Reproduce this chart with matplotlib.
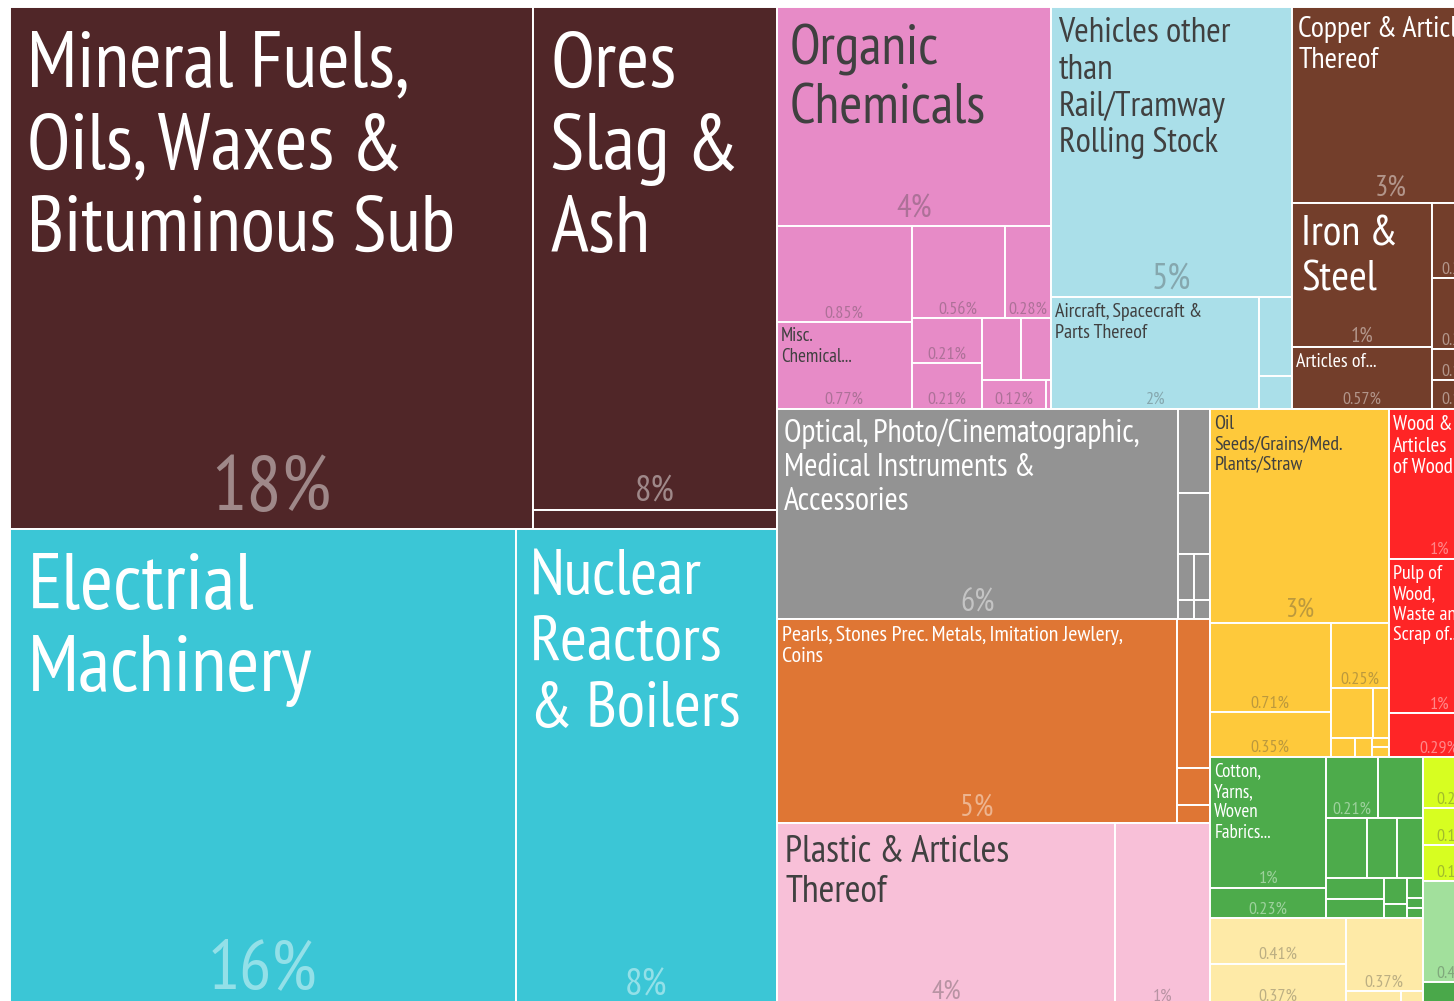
import matplotlib
matplotlib.use("Agg")
import matplotlib.pyplot as plt
import matplotlib.colors as mcolors
from matplotlib import font_manager
from matplotlib.patches import Rectangle

# shares of total exports (%)
minerals_share = [17.93, 8.07, 0.31]
minerals_names = ["Mineral Fuels,\nOils, Waxes &\nBituminous Sub", "Ores\nSlag &\nAsh", ""]

machinery_share = [15.82, 8.17]
machinery_names = ["Electrial\nMachinery", "Nuclear\nReactors\n& Boilers"]

chemicals_share = [3.94, 0.85, 0.77, 0.56, 0.28, 0.21, 0.21, 0.16, 0.12, 0.12, 0.01]
chemicals_names = ["Organic\nChemicals", "", "Misc.\nChemical...", "", "", "", "", "", "", "", ""]

transport_share = [4.60, 1.52, 0.17, 0.07]
transport_names = ["Vehicles other\nthan\nRail/Tramway\nRolling Stock",
                   "Aircraft, Spacecraft &\nParts Thereof", "", ""]

metals_share = [2.55, 1.32, 0.57, 0.29, 0.27, 0.12, 0.11]
metals_names = ["Copper & Articles\nThereof", "Iron &\nSteel", "Articles of...", "", "", "", ""]

instruments_share = [5.54, 0.18, 0.13, 0.05, 0.05, 0.02, 0.02]
instruments_names = ["Optical, Photo/Cinematographic,\nMedical Instruments &\nAccessories",
                     "", "", "", "", "", ""]

precious_share = [5.38, 0.32, 0.08, 0.04]
precious_names = ["Pearls, Stones Prec. Metals, Imitation Jewlery,\nCoins", "", "", ""]

plastics_share = [4.04, 1.13]
plastics_names = ["Plastic & Articles\nThereof", ""]

vegetable_share = [2.51, 0.71, 0.35, 0.25, 0.14, 0.05, 0.03, 0.02, 0.01, 0.01]
vegetable_names = ["Oil\nSeeds/Grains/Med.\nPlants/Straw", "", "", "", "", "", "", "", "", ""]

wood_share = [1.00, 1.03, 0.29]
wood_names = ["Wood &\nArticles\nof Wood", "Pulp of\nWood,\nWaste and\nScrap of...", ""]

textiles_share = [1.00, 0.23, 0.21, 0.18, 0.16, 0.12, 0.10, 0.08, 0.07, 0.04, 0.02, 0.02, 0.01, 0.01]
textiles_names = ["Cotton,\nYarns,\nWoven\nFabrics..."] + [""] * 13

foodstuffs_share = [0.41, 0.37, 0.37, 0.05, 0.02]
foodstuffs_names = [""] * 5

lime_share = [0.23, 0.16, 0.16]
lime_names = ["", "", ""]
stone_share = [0.45]
stone_names = [""]
misc_share = [0.10]
misc_names = [""]

# nesting of the slices: "h" = side by side, "v" = stacked
groups = {
    "minerals": (minerals_share, minerals_names, ("h", [0, ("v", [1, 2])])),
    "machinery": (machinery_share, machinery_names, ("h", [0, 1])),
    "chemicals": (chemicals_share, chemicals_names,
                  ("v", [0, ("h", [("v", [1, 2]),
                                   ("v", [("h", [3, 4]),
                                          ("h", [("v", [5, 6]),
                                                 ("v", [("h", [7, 8]), ("h", [9, 10])])])])])])),
    "transport": (transport_share, transport_names, ("v", [0, ("h", [1, ("v", [2, 3])])])),
    "metals": (metals_share, metals_names, ("v", [0, ("h", [("v", [1, 2]), ("v", [3, 4, 5, 6])])])),
    "instruments": (instruments_share, instruments_names,
                    ("h", [0, ("v", [1, 2, ("h", [3, 4]), ("h", [5, 6])])])),
    "precious": (precious_share, precious_names, ("h", [0, ("v", [1, 2, 3])])),
    "plastics": (plastics_share, plastics_names, ("h", [0, 1])),
    "vegetable": (vegetable_share, vegetable_names,
                  ("v", [0, ("h", [("v", [1, 2]),
                                   ("v", [3, ("h", [4, 5]), ("h", [6, 7, ("v", [8, 9])])])])])),
    "wood": (wood_share, wood_names, ("v", [0, 1, 2])),
    "textiles": (textiles_share, textiles_names,
                 ("h", [("v", [0, 1]),
                        ("v", [("h", [2, 3]), ("h", [4, 5, 6]),
                               ("h", [("v", [7, 8]), ("v", [9, 10]), ("v", [11, 12, 13])])])])),
    "foodstuffs": (foodstuffs_share, foodstuffs_names, ("h", [("v", [0, 1]), ("v", [2, ("h", [3, 4])])])),
    "lime": (lime_share, lime_names, ("v", [0, 1, 2])),
    "stone": (stone_share, stone_names, 0),
    "misc": (misc_share, misc_names, 0),
}

layout = ("h", [("v", ["minerals", "machinery"]),
                ("v", [("h", ["chemicals", "transport", "metals"]),
                       ("h", [("v", ["instruments", "precious", "plastics"]),
                              ("v", [("h", ["vegetable", "wood"]),
                                     ("h", [("v", ["textiles", "foodstuffs"]),
                                            ("v", ["lime", "stone", "misc"])])])])])])

fill = {"minerals": "#502628", "machinery": "#3bc6d6", "chemicals": "#e78bc7",
        "transport": "#aadfe9", "metals": "#733e2b", "instruments": "#939393",
        "precious": "#df7634", "plastics": "#f8c0d8", "vegetable": "#fec93b",
        "wood": "#ff2526", "textiles": "#4dab4b", "foodstuffs": "#feeaa7",
        "lime": "#d7fe21", "stone": "#a2e09c", "misc": "#4aa84a"}
white_text = {"minerals", "machinery", "metals", "instruments", "precious", "wood", "textiles"}
DARK = "#404040"

# name label sizes in pixels
name_px = {("minerals", 0): 79, ("minerals", 1): 80, ("machinery", 0): 80, ("machinery", 1): 65,
           ("chemicals", 0): 56, ("chemicals", 2): 19, ("transport", 0): 35, ("transport", 1): 20,
           ("metals", 0): 30, ("metals", 1): 43, ("metals", 2): 20, ("instruments", 0): 32,
           ("precious", 0): 22, ("plastics", 0): 38, ("vegetable", 0): 20, ("wood", 0): 21,
           ("wood", 1): 20, ("textiles", 0): 19}

have = {f.name for f in font_manager.fontManager.ttflist}
FONT = next((f for f in ["PT Sans Narrow", "Liberation Sans Narrow", "Roboto Condensed",
                         "Open Sans Condensed", "DejaVu Sans"] if f in have), "DejaVu Sans")


def node_sum(node, g=None):
    if isinstance(node, str):
        return node_sum(groups[node][2], node)
    if isinstance(node, int):
        return groups[g][0][node]
    return sum(node_sum(c, g) for c in node[1])


def place(node, x, y, w, h, g, out):
    if isinstance(node, str):
        place(groups[node][2], x, y, w, h, node, out)
        return
    if isinstance(node, int):
        out.append((g, node, x, y, w, h))
        return
    d, kids = node
    tot = node_sum(node, g)
    pos = 0.0
    for k in kids:
        f = node_sum(k, g) / tot
        if d == "h":
            place(k, x + pos * w, y, f * w, h, g, out)
        else:
            place(k, x, y + pos * h, w, f * h, g, out)
        pos += f


def mix(c1, c2, t):
    a = mcolors.to_rgb(c1)
    b = mcolors.to_rgb(c2)
    return tuple(a[i] + (b[i] - a[i]) * t for i in range(3))


DPI = 100
PT = 72 / DPI
fig = plt.figure(figsize=(14.54, 10.01), dpi=DPI)
ax = fig.add_axes([0, 0, 1, 1])
ax.set_xlim(0, 1454)
ax.set_ylim(1001, 0)
ax.axis("off")

cells = []
place(layout, 10, 7, 1480, 998, None, cells)

for g, i, x, y, w, h in cells:
    share, names, _ = groups[g]
    ax.add_patch(Rectangle((x, y), w, h, facecolor=fill[g], edgecolor="white", lw=1.4))
    txt = "white" if g in white_text else DARK
    if names[i]:
        fs = name_px[(g, i)]
        ax.text(x + 0.22 * fs, y + 0.3 * fs, names[i], fontsize=fs * PT, color=txt,
                ha="left", va="top", linespacing=1.18, family=FONT, clip_on=True)
    if w >= 45 and h >= 26:
        fs = max(18, 0.15 * min(w, h))
        v = share[i]
        lab = f"{v:.0f}%" if v >= 1 else f"{v:.2f}%"
        pc = mix(fill[g], txt, 0.45 if g in white_text else 0.35)
        ax.text(x + w / 2, y + h - 0.24 * fs, lab, fontsize=fs * PT, color=pc,
                ha="center", va="baseline", family=FONT, clip_on=True)

fig.savefig("out.png", dpi=DPI, facecolor="white")
